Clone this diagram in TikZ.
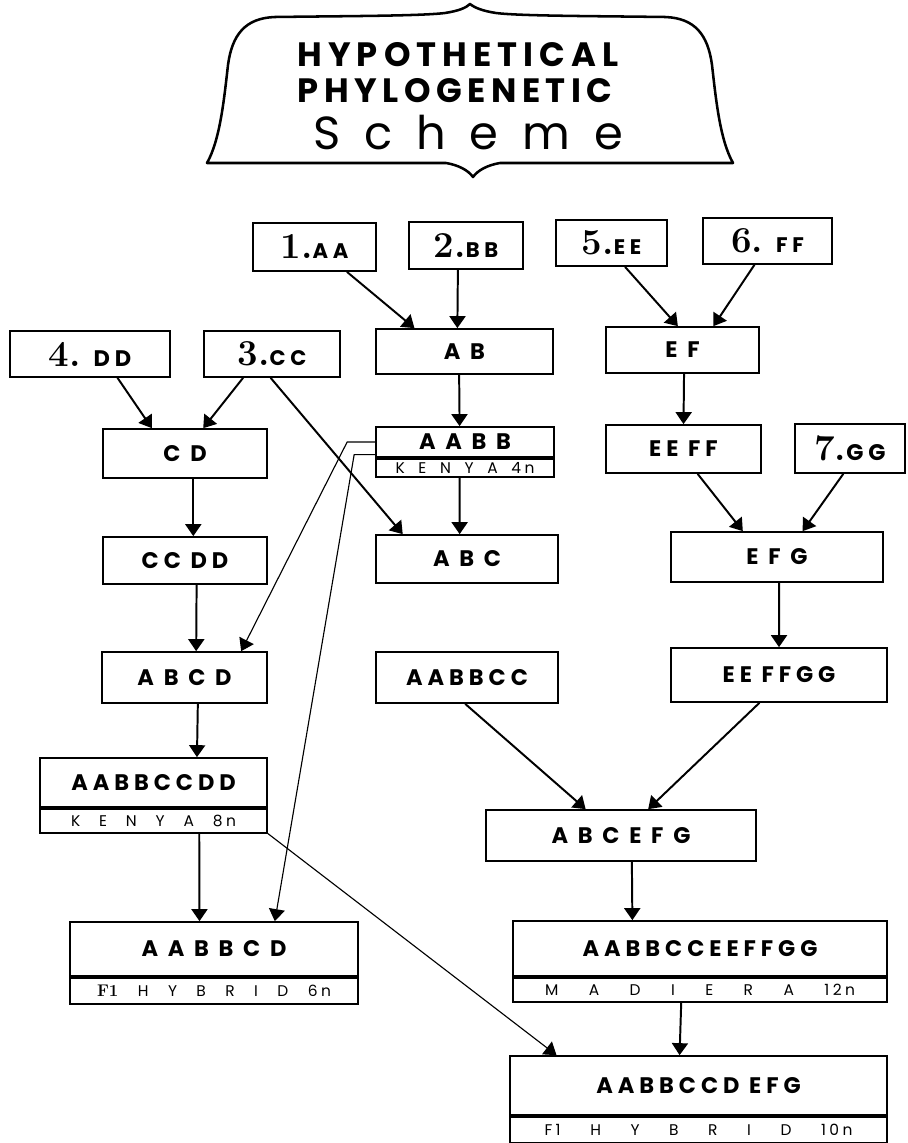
\documentclass[tikz,border=0pt]{standalone}
\usepackage{fontspec}
\usetikzlibrary{arrows.meta, positioning, calc}
\newfontfamily\titlefont{Poppins}
\newfontfamily\genefont[LetterSpace=22]{Poppins}
\newlength{\px}
\setlength{\px}{0.025cm}
\newcommand{\idnum}[1]{{\rmfamily\bfseries\fontsize{26}{26}\selectfont #1}}
\newcommand{\parlet}[1]{{\fontsize{15}{16}\selectfont #1}}
\newcommand{\spread}[2]{\makebox[#1\px][s]{#2}}
\tikzset{
  every picture/.style={line width=1pt},
  gbox/.style 2 args={draw, line width=1.2pt, minimum width=#1\px, minimum height=#2\px, inner sep=0pt, font=\genefont\bfseries\fontsize{16}{18}\selectfont},
  strain/.style 2 args={draw, line width=1.2pt, minimum width=#1\px, minimum height=#2\px, inner sep=0pt, font=\genefont\fontsize{11}{12}\selectfont},
  arrow/.style={-{Triangle[length=3mm, width=4mm]}, line width=1.4pt},
  link/.style={arrow, line width=0.8pt},
  banner/.style={line width=1.8pt, line join=round},
  title/.style={font=\titlefont\bfseries\fontsize{24}{26}\selectfont},
}
\begin{document}
\begin{tikzpicture}[x=0.025cm, y=-0.025cm]
  \useasboundingbox (0,0) rectangle (907,1143);
  % title
  \draw[banner] (207,163) .. controls (220,140) and (224,100) .. (228,65) .. controls (232,35) and (245,18) .. (275,17)
    .. controls (350,16) and (420,16) .. (445,13) .. controls (458,11) and (466,8) .. (470,4)
    .. controls (475,8) and (483,11) .. (496,13) .. controls (520,16) and (590,16) .. (665,17)
    .. controls (695,18) and (708,35) .. (712,65) .. controls (716,100) and (720,140) .. (733,163)
    -- (500,163) .. controls (488,165) and (478,170) .. (473,177) .. controls (468,170) and (458,165) .. (446,163) -- cycle;
  \node[title] (t1) at (458,55) {\makebox[321\px][s]{H Y P O T H E T I C A L}};
  \node[title] (t2) at (455,91) {\makebox[315\px][s]{P H Y L O G E N E T I C}};
  \node[font=\titlefont\fontsize{33}{36}\selectfont] (t3) at (468,133) {\makebox[310\px][s]{S c h e m e}};
  % parents
  \node[gbox={123}{48}] (aa) at (314.5,247) {\idnum{1.}\parlet{AA}};
  \node[gbox={114}{47}] (bb) at (466,245.5) {\idnum{2.}\parlet{BB}};
  \node[gbox={111}{46}] (ee) at (611.5,243) {\idnum{5.}\parlet{EE}};
  \node[gbox={129}{46}] (ff) at (767.5,241) {\idnum{6.} \parlet{FF}};
  \node[gbox={160}{46}] (dd) at (90,354) {\idnum{4.} DD};
  \node[gbox={136}{46}] (cc) at (272,354) {\idnum{3.}\parlet{CC}};
  \node[gbox={110}{49}] (gg) at (850,448.5) {\idnum{7.}GG};
  % crosses
  \node[gbox={177}{45}] (ab) at (464.5,351.5) {A B};
  \node[gbox={153}{46}] (ef) at (682.5,350) {E F};
  \node[gbox={164}{49}] (cd) at (185,453.5) {C D};
  \node[gbox={178}{30}] (aabb) at (465,442) {A A B B};
  \node[strain={178}{18}, below=0pt of aabb] (aabbk) {\spread{139}{K E N Y A 4n}};
  \node[gbox={155}{48}] (eeff) at (683.5,449) {EE FF};
  \node[gbox={164}{47}] (ccdd) at (185,560.5) {CC DD};
  \node[gbox={182}{48}] (abc) at (467,559) {A B C};
  \node[gbox={212}{50}] (efg) at (777,557) {E F G};
  \node[gbox={165}{51}] (abcd) at (184.5,677.5) {A B C D};
  \node[gbox={182}{51}] (aabbcc) at (467,677.5) {AABBCC};
  \node[gbox={216}{54}] (eeffgg) at (779,675) {EE FFGG};
  \node[gbox={227}{49}] (aabbccdd) at (153.5,782.5) {AABBCCDD};
  \node[strain={227}{24}, below=0pt of aabbccdd] (kenya8) {\spread{165}{K E N Y A 8n}};
  \node[gbox={270}{51}] (abcefg) at (621,835.5) {A B C E F G};
  % hybrids
  \node[gbox={288}{54}] (hyb6) at (214,949) {A A B B C D};
  \node[strain={288}{26}, below=0pt of hyb6] (hyb6k) {\spread{234}{{\rmfamily\bfseries\fontsize{12}{12}\selectfont F1} H Y B R I D 6n}};
  \node[gbox={374}{55}] (madeira) at (700,948.5) {AABBCCEEFFGG};
  \node[strain={374}{24}, below=0pt of madeira] (madeirak) {\spread{310}{M A D I E R A 12n}};
  \node[gbox={377}{59}] (hyb10) at (698.5,1085.5) {AABBCCD EFG};
  \node[strain={377}{26}, below=0pt of hyb10] (hyb10k) {\spread{308}{F1 H Y B R I D 10n}};
  % arrows
  \draw[arrow] ($(aa.south west)!.76!(aa.south east)$) -- ($(ab.north west)!.22!(ab.north east)$);
  \draw[arrow] ($(bb.south west)!.43!(bb.south east)$) -- ($(ab.north west)!.46!(ab.north east)$);
  \draw[arrow] ($(ee.south west)!.62!(ee.south east)$) -- ($(ef.north west)!.47!(ef.north east)$);
  \draw[arrow] ($(ff.south west)!.40!(ff.south east)$) -- ($(ef.north west)!.70!(ef.north east)$);
  \draw[arrow] ($(dd.south west)!.67!(dd.south east)$) -- ($(cd.north west)!.30!(cd.north east)$);
  \draw[arrow] ($(cc.south west)!.29!(cc.south east)$) -- ($(cd.north west)!.61!(cd.north east)$);
  \draw[arrow] ($(cc.south west)!.49!(cc.south east)$) -- ($(abc.north west)!.15!(abc.north east)$);
  \draw[arrow] ($(ab.south west)!.47!(ab.south east)$) -- ($(aabb.north west)!.47!(aabb.north east)$);
  \draw[arrow] ($(aabbk.south west)!.47!(aabbk.south east)$) -- ($(abc.north west)!.46!(abc.north east)$);
  \draw[arrow] ($(ef.south west)!.51!(ef.south east)$) -- ($(eeff.north west)!.50!(eeff.north east)$);
  \draw[arrow] ($(eeff.south west)!.59!(eeff.south east)$) -- ($(efg.north west)!.34!(efg.north east)$);
  \draw[arrow] ($(gg.south west)!.44!(gg.south east)$) -- ($(efg.north west)!.62!(efg.north east)$);
  \draw[arrow] ($(efg.south west)!.51!(efg.south east)$) -- ($(eeffgg.north west)!.50!(eeffgg.north east)$);
  \draw[arrow] ($(cd.south west)!.55!(cd.south east)$) -- ($(ccdd.north west)!.55!(ccdd.north east)$);
  \draw[arrow] ($(ccdd.south west)!.57!(ccdd.south east)$) -- ($(abcd.north west)!.57!(abcd.north east)$);
  \draw[link] (aabb.west) -- ++(-28,0) -- ($(abcd.north west)!.84!(abcd.north east)$);
  \draw[link] ($(aabb.north west)!.9!(aabb.south west)$) -- ++(-21,0) -- ($(hyb6.north west)!.71!(hyb6.north east)$);
  \draw[arrow] ($(abcd.south west)!.58!(abcd.south east)$) -- ($(aabbccdd.north west)!.69!(aabbccdd.north east)$);
  \draw[arrow] ($(kenya8.south west)!.70!(kenya8.south east)$) -- ($(hyb6.north west)!.45!(hyb6.north east)$);
  \draw[link] (kenya8.south east) -- ($(hyb10.north west)!.125!(hyb10.north east)$);
  \draw[arrow] ($(aabbcc.south west)!.49!(aabbcc.south east)$) -- ($(abcefg.north west)!.37!(abcefg.north east)$);
  \draw[arrow] ($(eeffgg.south west)!.41!(eeffgg.south east)$) -- ($(abcefg.north west)!.60!(abcefg.north east)$);
  \draw[arrow] ($(abcefg.south west)!.54!(abcefg.south east)$) -- ($(madeira.north west)!.32!(madeira.north east)$);
  \draw[arrow] ($(madeirak.south west)!.45!(madeirak.south east)$) -- ($(hyb10.north west)!.45!(hyb10.north east)$);
\end{tikzpicture}
\end{document}
